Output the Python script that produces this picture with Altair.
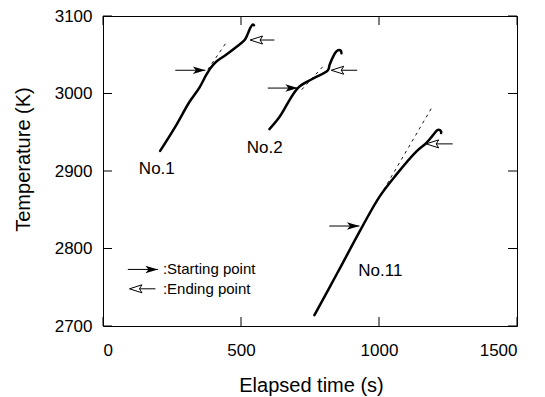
import altair as alt
import pandas as pd

# ---------------- data ----------------
no1_t = [207, 265, 313, 350, 374, 392, 410, 446, 483, 513, 521, 528, 534, 543, 547]
no1_T = [2926, 2959, 2989, 3008, 3024, 3034, 3041, 3050, 3060, 3069, 3074, 3080, 3085, 3089, 3088]

no2_t = [603, 640, 706, 760, 815, 821, 833, 845, 855, 862, 864]
no2_T = [2954, 2970, 3007, 3019, 3030, 3037, 3047, 3054, 3056, 3055, 3052]

no11_t = [766, 850, 936, 1002, 1062, 1135, 1171, 1195, 1213, 1225, 1225]
no11_T = [2714, 2769, 2826, 2867, 2895, 2925, 2936, 2946, 2953, 2951, 2949]

# dashed extrapolation lines (start, end)
dash_run = ["No.1", "No.1", "No.2", "No.2", "No.11", "No.11"]
dash_t = [380, 445, 720, 800, 940, 1195]
dash_T = [3031, 3065, 3005, 3036, 2829, 2984]

# starting-point arrows (shaft start, tip, temperature)
start_from = [262, 597, 820, 90]
start_tip = [371, 706, 929, 199]
start_T = [3030, 3007, 2829, 2773]

# ending-point arrows (tip, notch, shaft end, temperature)
end_tip = [533, 827, 1171, 96]
end_notch = [569, 863, 1207, 132]
end_to = [621, 921, 1267, 190]
end_T = [3069, 3030, 2935, 2748]

# run labels
lab_text = ["No.1", "No.2", "No.11"]
lab_t = [195, 586, 1005]
lab_T = [2902, 2930, 2771]

# legend texts
leg_text = [":Starting point", ":Ending point"]
leg_t = [217, 217]
leg_T = [2773, 2748]

x_ticks = [0, 500, 1000, 1500]
y_ticks = [2700, 2800, 2900, 3000, 3100]

W, H = 414, 310
FONT = "Liberation Sans"

# ---------------- tables ----------------
rows = []
for name, ts, Ts in [("No.1", no1_t, no1_T), ("No.2", no2_t, no2_T), ("No.11", no11_t, no11_T)]:
    for i, (t, T) in enumerate(zip(ts, Ts)):
        rows.append({"run": name, "i": i, "t": t, "T": T})
curves = pd.DataFrame(rows)
dashes = pd.DataFrame({"run": dash_run, "t": dash_t, "T": dash_T})
starts = pd.DataFrame({"t0": start_from, "t1": start_tip, "T": start_T})
ends = pd.DataFrame({"tip": end_tip, "notch": end_notch, "t1": end_to, "T": end_T})
labels = pd.DataFrame({"text": lab_text, "t": lab_t, "T": lab_T})
legend = pd.DataFrame({"text": leg_text, "t": leg_t, "T": leg_T})
xt = pd.DataFrame({"v": x_ticks})
yt = pd.DataFrame({"v": y_ticks})

xs = alt.Scale(domain=[0, 1500], nice=False)
ys = alt.Scale(domain=[2700, 3100], nice=False)

x_axis = alt.Axis(values=x_ticks, format="d", title="Elapsed time (s)", labelPadding=16,
                  titleY=49, titleX=208, titleBaseline="top", titleAlign="center")
y_axis = alt.Axis(values=y_ticks, format="d", title="Temperature (K)", labelPadding=11,
                  titleAngle=270, titleX=-70, titleY=143, titleBaseline="bottom",
                  titleAlign="center")

base_x = alt.X("t:Q", scale=xs, axis=x_axis)
base_y = alt.Y("T:Q", scale=ys, axis=y_axis)

curve_layer = alt.Chart(curves).mark_line(color="black", strokeWidth=2.5,
                                           interpolate="catmull-rom",
                                           strokeJoin="round", strokeCap="round").encode(
    x=base_x, y=base_y, detail="run:N", order=alt.Order("i:Q"))

dash_layer = alt.Chart(dashes).mark_line(color="black", strokeWidth=0.9,
                                          strokeDash=[3, 4]).encode(
    x=alt.X("t:Q", scale=xs), y=alt.Y("T:Q", scale=ys), detail="run:N")

start_shaft = alt.Chart(starts).mark_rule(color="black", strokeWidth=1).encode(
    x=alt.X("t0:Q", scale=xs), x2="t1:Q", y=alt.Y("T:Q", scale=ys))
start_head = alt.Chart(starts).mark_point(
    shape="M0,0 L-2.5,-0.75 L-1.9,0 L-2.5,0.75 Z", size=100, filled=True,
    color="black", opacity=1).encode(
    x=alt.X("t1:Q", scale=xs), y=alt.Y("T:Q", scale=ys))

end_shaft = alt.Chart(ends).mark_rule(color="black", strokeWidth=1).encode(
    x=alt.X("notch:Q", scale=xs), x2="t1:Q", y=alt.Y("T:Q", scale=ys))
end_head = alt.Chart(ends).mark_point(
    shape="M0,0 L2.5,-0.8 L2,0 L2.5,0.8 Z", size=100, filled=False,
    color="black", strokeWidth=1, opacity=1).encode(
    x=alt.X("tip:Q", scale=xs), y=alt.Y("T:Q", scale=ys))

label_layer = alt.Chart(labels).mark_text(font=FONT, fontSize=17, color="black",
                                           align="center", baseline="middle").encode(
    x=alt.X("t:Q", scale=xs), y=alt.Y("T:Q", scale=ys), text="text:N")

legend_layer = alt.Chart(legend).mark_text(font=FONT, fontSize=15, color="black",
                                            align="left", baseline="middle").encode(
    x=alt.X("t:Q", scale=xs), y=alt.Y("T:Q", scale=ys), text="text:N")

TL = 9
tick_bottom = alt.Chart(xt).mark_rule(color="black", strokeWidth=1).encode(
    x=alt.X("v:Q", scale=xs), y=alt.value(H), y2=alt.value(H - TL))
tick_top = alt.Chart(xt).mark_rule(color="black", strokeWidth=1).encode(
    x=alt.X("v:Q", scale=xs), y=alt.value(0), y2=alt.value(TL))
tick_left = alt.Chart(yt).mark_rule(color="black", strokeWidth=1).encode(
    y=alt.Y("v:Q", scale=ys), x=alt.value(0), x2=alt.value(TL))
tick_right = alt.Chart(yt).mark_rule(color="black", strokeWidth=1).encode(
    y=alt.Y("v:Q", scale=ys), x=alt.value(W), x2=alt.value(W - TL))

chart = alt.layer(
    curve_layer, dash_layer, start_shaft, start_head, end_shaft, end_head,
    label_layer, legend_layer, tick_bottom, tick_top, tick_left, tick_right
).properties(
    width=W, height=H,
    autosize=alt.AutoSizeParams(type="none"),
    padding={"left": 103, "top": 16, "right": 28, "bottom": 71},
    background="white",
).configure_view(
    stroke="black", strokeWidth=1
).configure_axis(
    domain=False, ticks=False, grid=False,
    labelFont=FONT, labelFontSize=17, labelColor="black",
    titleFont=FONT, titleFontSize=20, titleFontWeight="normal", titleColor="black",
)

chart.save("out.html", embed_options={"renderer": "svg", "actions": False})
